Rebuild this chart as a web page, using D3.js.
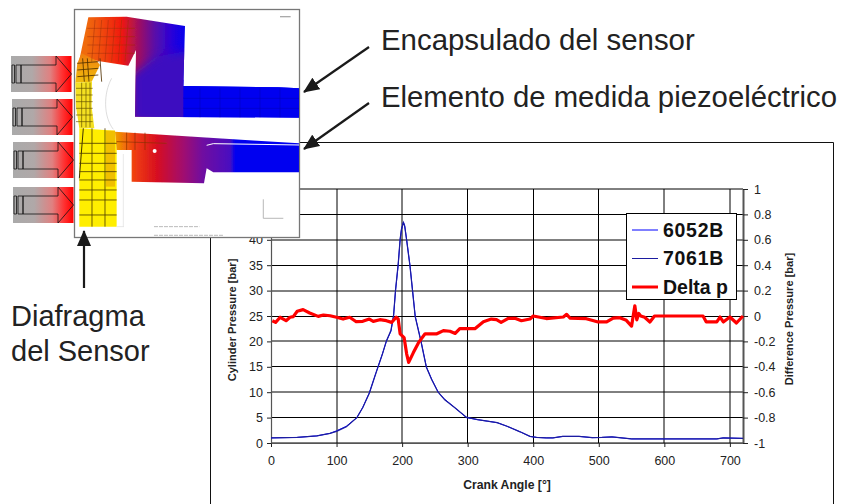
<!DOCTYPE html>
<html>
<head>
<meta charset="utf-8">
<script src="https://cdn.jsdelivr.net/npm/d3@7"></script>
<style>
  html, body { margin: 0; padding: 0; background: #fff; }
  svg { display: block; font-family: "Liberation Sans", Arial, sans-serif; }
</style>
</head>
<body>
<div id="chart"></div>
<script>
// chart values
const crankAngle = [0, 40, 70, 90, 100, 115, 131, 140, 150, 160, 170, 176, 183, 187, 190, 194, 197, 199, 202, 204, 207, 212, 216, 220, 229, 237, 245, 255, 265, 280, 298, 315, 330, 345, 360, 380, 395, 405, 420, 430, 445, 470, 490, 505, 520, 550, 600, 680, 690, 720];
const p6052B = [1.0, 1.1, 1.4, 1.9, 2.4, 3.3, 5.0, 7.0, 9.9, 13.8, 17.6, 20.0, 22.0, 25.0, 30.0, 35.0, 40.0, 42.0, 43.5, 42.8, 40.0, 35.0, 30.0, 25.0, 20.0, 15.0, 12.6, 10.0, 8.6, 7.0, 5.0, 4.6, 4.3, 4.0, 3.3, 2.2, 1.3, 1.1, 1.0, 1.0, 1.3, 1.3, 1.05, 1.1, 1.2, 0.8, 0.8, 0.8, 1.0, 0.9];
const p7061B = [1.0, 1.1, 1.4, 1.9, 2.3, 3.2, 5.0, 7.0, 9.8, 13.7, 17.5, 20.1, 22.2, 25.2, 30.2, 35.2, 40.2, 42.1, 43.4, 42.6, 39.8, 34.8, 29.8, 24.8, 19.8, 14.9, 12.5, 10.0, 8.5, 7.0, 5.1, 4.6, 4.3, 4.0, 3.3, 2.2, 1.3, 1.1, 1.0, 1.0, 1.3, 1.3, 1.05, 1.1, 1.2, 0.8, 0.8, 0.8, 1.0, 0.9];

const deltaCrank = [2, 7, 14, 23, 29, 34, 40, 49, 59, 72, 80, 90, 100, 110, 120, 130, 140, 150, 156, 166, 176, 184, 191, 194, 197, 203, 207, 210, 217, 225, 235, 253, 263, 273, 281, 288, 298, 311, 324, 336, 344, 351, 362, 372, 382, 395, 400, 420, 446, 451, 456, 481, 499, 512, 522, 532, 542, 550, 555, 558, 561, 564, 570, 578, 585, 659, 664, 680, 685, 690, 700, 710, 720];
const deltaP = [-0.037, -0.05, -0.01, -0.037, -0.01, -0.005, 0.037, 0.05, 0.024, -0.003, 0.008, 0.002, -0.01, -0.024, -0.01, -0.045, -0.042, -0.024, -0.042, -0.029, -0.037, -0.05, -0.01, -0.024, -0.14, -0.17, -0.3, -0.365, -0.29, -0.21, -0.14, -0.14, -0.115, -0.12, -0.137, -0.1, -0.1, -0.1, -0.045, -0.024, -0.029, -0.05, -0.018, -0.018, -0.037, -0.024, 0, -0.02, -0.008, 0.013, -0.016, -0.021, -0.047, -0.047, -0.016, -0.013, -0.034, -0.08, 0.08, -0.03, 0.02, 0, -0.01, -0.047, 0, 0, -0.047, -0.047, -0.008, -0.047, -0.008, -0.055, 0];

const xTicks = [0, 100, 200, 300, 400, 500, 600, 700];
const yTicks = [0, 5, 10, 15, 20, 25, 30, 35, 40, 45, 50];
const y2Ticks = [-1, -0.8, -0.6, -0.4, -0.2, 0, 0.2, 0.4, 0.6, 0.8, 1];
const legendNames = ['6052B', '7061B', 'Delta p'];

const width = 841, height = 504;
const svg = d3.select('#chart').append('svg').attr('width', width).attr('height', height);

const x = d3.scaleLinear().domain([0, 720]).range([271, 743]);
const y = d3.scaleLinear().domain([0, 50]).range([443, 189]);
const y2 = d3.scaleLinear().domain([-1, 1]).range([443, 189]);

// outer frame of the pasted chart, runs off the bottom of the page
svg.append('path')
  .attr('d', `M210.5,${height}V142.5H833.5V${height}`)
  .attr('fill', 'none').attr('stroke', '#111').attr('stroke-width', 1);

// grid, every other line lands between two pixels like the downsampled original
const crispX = [300, 400, 500];
const chart = svg.append('g');
chart.selectAll('.gx').data(xTicks.slice(1)).join('line')
  .attr('x1', d => crispX.includes(d) ? Math.floor(x(d)) + 0.5 : Math.round(x(d)))
  .attr('x2', d => crispX.includes(d) ? Math.floor(x(d)) + 0.5 : Math.round(x(d)))
  .attr('y1', y(50)).attr('y2', y(0))
  .attr('stroke', '#000');
chart.selectAll('.gy').data(yTicks).join('line')
  .attr('x1', x(0)).attr('x2', x(720))
  .attr('y1', d => d % 10 ? Math.floor(y(d)) + 0.5 : Math.round(y(d)))
  .attr('y2', d => d % 10 ? Math.floor(y(d)) + 0.5 : Math.round(y(d)))
  .attr('stroke', '#000');

// axes
function styleAxis(g) {
  g.selectAll('.domain').attr('stroke', '#555').attr('stroke-width', 1.2);
  g.selectAll('.tick line').attr('stroke', '#222');
  g.selectAll('.tick text').attr('fill', '#222').attr('font-size', 12.5)
    .attr('font-family', '"Liberation Sans", Arial, sans-serif');
}
chart.append('g').attr('transform', `translate(0,${y(0)})`)
  .call(d3.axisBottom(x).tickValues(xTicks).tickSizeInner(4).tickSizeOuter(0).tickPadding(9).tickFormat(d3.format('d')))
  .call(styleAxis);
chart.append('g').attr('transform', `translate(${x(0)},0)`)
  .call(d3.axisLeft(y).tickValues(yTicks).tickSizeInner(4).tickSizeOuter(0).tickPadding(4).tickFormat(d3.format('d')))
  .call(styleAxis);
chart.append('g').attr('transform', `translate(${x(720)},0)`)
  .call(d3.axisRight(y2).tickValues(y2Ticks).tickSizeInner(5).tickSizeOuter(0).tickPadding(6).tickFormat(d => d === 0 ? '0' : String(d)))
  .call(styleAxis)
  .call(g => g.select('.domain').attr('stroke-width', 2));

// axis titles
const titleStyle = t => t.attr('font-weight', 'bold').attr('fill', '#222').attr('text-anchor', 'middle');
chart.append('text').attr('x', 507).attr('y', 489).text('Crank Angle [°]').attr('font-size', 12.2).call(titleStyle);
chart.append('text').attr('transform', 'translate(235.5,320) rotate(-90)').text('Cylinder Pressure [bar]').attr('font-size', 11.1).call(titleStyle);
chart.append('text').attr('transform', 'translate(793,319) rotate(-90)').text('Difference Pressure [bar]').attr('font-size', 11.1).call(titleStyle);

// series
const pressureLine = values => d3.line().x((d, i) => x(crankAngle[i])).y(d => y(d))(values);
chart.append('path').attr('d', pressureLine(p6052B)).attr('fill', 'none').attr('stroke', '#0000ff').attr('stroke-width', 1);
chart.append('path').attr('d', pressureLine(p7061B)).attr('fill', 'none').attr('stroke', '#1c1ca0').attr('stroke-width', 1.2);
chart.append('path')
  .attr('d', d3.line().x((d, i) => x(deltaCrank[i])).y(d => y2(d))(deltaP))
  .attr('fill', 'none').attr('stroke', '#ff0000').attr('stroke-width', 3.2).attr('stroke-linejoin', 'round');

// legend
const legend = svg.append('g');
legend.append('rect').attr('x', 626.5).attr('y', 213.5).attr('width', 110).attr('height', 86)
  .attr('fill', '#fff').attr('stroke', '#000');
const legendColors = ['#0000ff', '#1c1ca0', '#ff0000'];
const legendWidths = [1, 1, 3];
const legendSpacing = [0.7, 0.7, 0];
const legendY = d3.scalePoint().domain(legendNames).range([230, 287]);
legendNames.forEach((name, i) => {
  legend.append('line').attr('x1', 632).attr('x2', 658).attr('y1', legendY(name)).attr('y2', legendY(name))
    .attr('stroke', legendColors[i]).attr('stroke-width', legendWidths[i]);
  legend.append('text').attr('x', 663).attr('y', legendY(name) + 6.5).text(name)
    .attr('font-size', 19.5).attr('font-weight', 'bold').attr('fill', '#111')
    .attr('letter-spacing', legendSpacing[i]);
});

// sensor FE picture, laid out in the 3x coords of the crop
const defs = svg.append('defs');
function gradient(id, x1, y1, x2, y2, stops) {
  const g = defs.append('linearGradient').attr('id', id).attr('gradientUnits', 'userSpaceOnUse')
    .attr('x1', x1).attr('y1', y1).attr('x2', x2).attr('y2', y2);
  stops.forEach(s => g.append('stop').attr('offset', s[0]).attr('stop-color', s[1]));
}
gradient('bodyGrad', 260, 0, 560, 0, [[0, '#f06a10'], [0.12, '#f05010'], [0.35, '#f01810'], [0.52, '#a01060'], [0.68, '#5a10a8'], [0.85, '#2a00d8'], [1, '#0000f0']]);
gradient('barGrad', 405, 0, 552, 0, [[0, '#4810b0'], [0.65, '#2a10d0'], [1, '#0000f0']]);
gradient('wallGrad', 0, 165, 0, 250, [[0, '#f0800f'], [1, '#f0c010']]);
gradient('ribbonGrad', 345, 0, 720, 0, [[0, '#f0a000'], [0.15, '#f04010'], [0.33, '#d81020'], [0.55, '#a01070'], [0.7, '#7010a0'], [0.92, '#4a10c0'], [0.96, '#0000f0'], [1, '#0000f0']]);
defs.append('filter').attr('id', 'soft').append('feGaussianBlur').attr('stdDeviation', 0.9);
defs.append('filter').attr('id', 'wide').attr('x', '-30%').attr('y', '-30%').attr('width', '160%').attr('height', '160%')
  .append('feGaussianBlur').attr('stdDeviation', 14);

const bodyPts = [[265, 52], [380, 50], [555, 78], [550, 258], [835, 262], [897, 265], [897, 353], [405, 350], [408, 150], [385, 197], [290, 182], [238, 180]];
const barPts = [[395, 225], [470, 170], [580, 150], [580, 370], [395, 370]];
const wallTopPts = [[245, 160], [290, 182], [300, 195], [275, 245], [226, 248], [232, 190]];
const wallPts = [[226, 248], [276, 245], [275, 320], [283, 385], [238, 385], [228, 320]];
const blockPts = [[238, 385], [345, 392], [350, 450], [350, 680], [238, 680]];
const stripPts = [[318, 392], [345, 392], [345, 560], [318, 560]];
const ribbonPts = [[345, 395], [700, 418], [897, 430], [897, 517], [640, 517], [620, 505], [612, 550], [395, 545], [395, 450], [350, 450]];

defs.append('clipPath').attr('id', 'bodyClip').append('polygon').attr('points', bodyPts.join(' '));

const pic = svg.append('g');
pic.append('rect').attr('x', 74.5).attr('y', 9.5).attr('width', 225).attr('height', 228)
  .attr('fill', '#fff').attr('stroke', '#777').attr('stroke-width', 1.3);
const fe = pic.append('g').attr('transform', 'scale(0.3333)').attr('filter', 'url(#soft)');
const poly = (pts, fill) => fe.append('polygon').attr('points', pts.join(' ')).attr('fill', fill);
poly(bodyPts, 'url(#bodyGrad)');
// the purple of the bar fades up into the red of the top piece
fe.append('g').attr('clip-path', 'url(#bodyClip)')
  .append('polygon').attr('points', barPts.join(' ')).attr('fill', '#3c10c0').attr('filter', 'url(#wide)');
fe.append('polygon').attr('points', [[550, 240], [897, 240], [897, 360], [550, 360]].join(' '))
  .attr('fill', '#0000f0').attr('clip-path', 'url(#bodyClip)');
poly(wallTopPts, 'url(#wallGrad)');
poly(wallPts, '#f4e020');
poly(blockPts, '#ffee00');
poly(stripPts, '#f0c000');
poly(ribbonPts, 'url(#ribbonGrad)');

// mesh lines
const meshLine = (x1, y1, x2, y2, c, w) => fe.append('line').attr('x1', x1).attr('y1', y1).attr('x2', x2).attr('y2', y2)
  .attr('stroke', c).attr('stroke-width', w);
[285, 305, 325, 345, 365, 385].forEach(v => meshLine(v, 60, v - 10, 185, '#a03000', 1.5));
[85, 110, 135, 160].forEach(v => meshLine(262, v, 405, v, '#a03000', 1.5));
[190, 210, 230].forEach(v => meshLine(232, v, 295, v - 5, '#503000', 2.5));
[248, 262, 300].forEach(v => meshLine(v, 175, v + 5, 245, '#503000', 2.5));
[245, 258, 270].forEach(v => meshLine(v, 248, v, 382, '#605000', 2));
[265, 285, 305, 325, 345, 365].forEach(v => meshLine(228, v, 278, v, '#605000', 2));
[276, 315].forEach(v => meshLine(v, 385, v, 680, '#504000', 2.5));
[250].forEach(v => meshLine(v, 385, v - 12, 535, '#403000', 3));
[430, 460, 490, 515, 540, 570, 600, 645].forEach(v => meshLine(238, v, 350, v, '#504000', 2.5));
[380, 405, 435].forEach(v => meshLine(v, 398, v, 450, '#8a3000', 2));
meshLine(350, 425, 500, 430, '#8a3000', 2);
[600, 660, 720, 780, 840].forEach(v => meshLine(v, 265, v, 352, '#0000b0', 1.5));
[295, 325].forEach(v => meshLine(550, v, 897, v, '#0000b0', 1.5));

// white details: slit, notch, cavity curve
fe.append('path').attr('d', 'M620,436L640,431L897,435').attr('stroke', '#fff').attr('stroke-width', 3).attr('fill', 'none');
fe.append('circle').attr('cx', 464).attr('cy', 453).attr('r', 6).attr('fill', '#fff');
fe.append('path').attr('d', 'M335,235C310,280 310,350 340,388').attr('stroke', '#ccc').attr('stroke-width', 2).attr('fill', 'none');
fe.append('path').attr('d', 'M370,462V680M350,680H372').attr('stroke', '#ddd').attr('stroke-width', 2).attr('fill', 'none');
// small triad and caption smudges
fe.append('path').attr('d', 'M790,598V655H850').attr('stroke', '#aaa').attr('stroke-width', 2.5).attr('fill', 'none');
fe.append('path').attr('d', 'M840,50H872').attr('stroke', '#aaa').attr('stroke-width', 4).attr('fill', 'none');
fe.append('path').attr('d', 'M462,680H598M462,706H670').attr('stroke', '#bbb').attr('stroke-width', 3).attr('stroke-dasharray', '12 3').attr('fill', 'none');

// pressure arrows on the left
const pressureBoxes = [[11, 56], [12, 99], [13, 142], [13, 187]];
gradient('pressGrad', 0, 0, 1, 0, [[0, '#aaaaaa'], [0.35, '#b0a8a8'], [0.65, '#e08080'], [0.85, '#ff3030'], [1, '#ff0000']]);
defs.select('#pressGrad').attr('gradientUnits', 'objectBoundingBox');
const arrows = svg.append('g');
pressureBoxes.forEach(([bx, by]) => {
  const g = arrows.append('g').attr('transform', `translate(${bx},${by})`);
  g.append('rect').attr('width', 60.5).attr('height', 36).attr('fill', 'url(#pressGrad)');
  g.append('path').attr('d', 'M10,9H45V0L60.5,18L45,36V27H10Z').attr('fill', 'none').attr('stroke', '#111').attr('stroke-width', 0.8);
  g.append('path').attr('d', 'M1,9H3.5V27H1ZM5,9H10V27H5Z').attr('fill', 'none').attr('stroke', '#111').attr('stroke-width', 0.8);
});

// callout arrows and labels
defs.append('marker').attr('id', 'head').attr('markerUnits', 'userSpaceOnUse').attr('markerWidth', 16).attr('markerHeight', 14)
  .attr('refX', 15).attr('refY', 7).attr('orient', 'auto')
  .append('path').attr('d', 'M0,0L16,7L0,14Z').attr('fill', '#1a1a1a');
const callouts = [[369, 47, 304, 92], [369, 103, 304, 149], [84, 288, 84, 231]];
svg.selectAll('.callout').data(callouts).join('line')
  .attr('x1', d => d[0]).attr('y1', d => d[1]).attr('x2', d => d[2]).attr('y2', d => d[3])
  .attr('stroke', '#1a1a1a').attr('stroke-width', 2.2).attr('marker-end', 'url(#head)');

const labels = [['Encapsulado del sensor', 381, 50, 29.4], ['Elemento de medida piezoeléctrico', 381, 107, 29.3], ['Diafragma', 11, 326, 29], ['del Sensor', 11, 361, 29]];
svg.selectAll('.label').data(labels).join('text')
  .attr('x', d => d[1]).attr('y', d => d[2]).text(d => d[0])
  .attr('font-size', d => d[3]).attr('fill', '#222');
</script>
</body>
</html>
